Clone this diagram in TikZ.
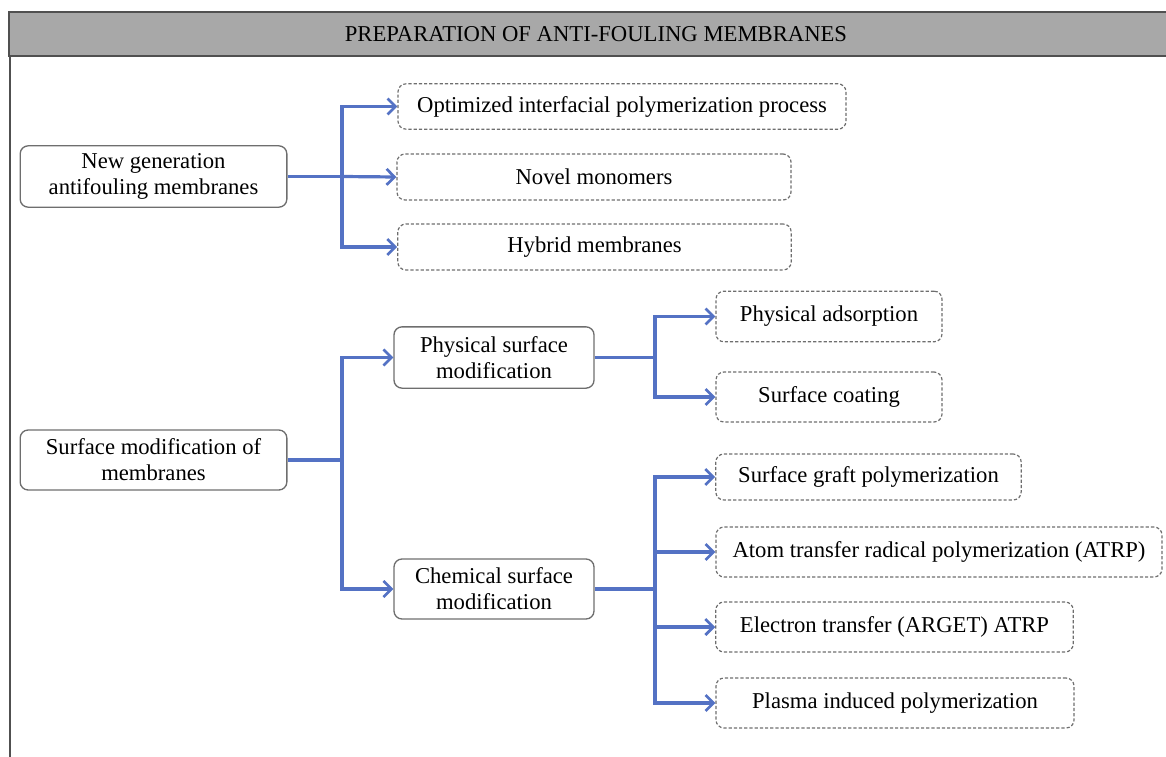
\documentclass[tikz,border=0pt]{standalone}
\usepackage{fontspec}
\setmainfont{Liberation Serif}
\usetikzlibrary{arrows.meta}

\definecolor{flowblue}{RGB}{84,114,196}
\definecolor{headgray}{RGB}{168,168,168}
\definecolor{framegray}{RGB}{80,80,80}
\definecolor{boxgray}{RGB}{110,110,110}

\tikzset{
  mainbox/.style={draw=boxgray,line width=1pt,rounded corners=6pt,align=center,
    inner sep=0pt,font=\fontsize{17}{19.5}\selectfont},
  subbox/.style={draw=boxgray,dashed,dash pattern=on 2.4pt off 1.5pt,line width=0.9pt,
    rounded corners=6pt,align=center,inner sep=0pt,font=\fontsize{17}{19.5}\selectfont},
  flow/.style={draw=flowblue,line width=2.4pt,-{Straight Barb[length=6pt,width=12pt,line width=2pt]}},
  trunk/.style={draw=flowblue,line width=2.4pt}
}

\begin{document}
\begin{tikzpicture}[x=0.75pt,y=0.75pt,yscale=-1,xscale=1]
\useasboundingbox (0,0) rectangle (1166,756);

%Header bar and frame
\draw [fill=headgray,draw=framegray,line width=2.2pt] (9,12) rectangle (1175,56);
\node (title) at (596,34) {\fontsize{17}{19.5}\selectfont PREPARATION OF ANTI-FOULING MEMBRANES};
\draw [draw=framegray,line width=2.2pt] (10,56) -- (10,765);

%Left column
\node [mainbox,minimum width=200pt,minimum height=46pt] (newgen) at (153.5,176.5) {New generation\\antifouling membranes};
\node [mainbox,minimum width=200pt,minimum height=45pt] (surfmod) at (153.5,460) {Surface modification of\\membranes};

%Middle column
\node [subbox,minimum width=336pt,minimum height=34pt] (optip) at (622,106.5) {Optimized interfacial polymerization process};
\node [subbox,minimum width=295.5pt,minimum height=34.5pt] (novel) at (594,177) {Novel monomers};
\node [subbox,minimum width=295pt,minimum height=34.5pt] (hybrid) at (594.5,247) {Hybrid membranes};
\node [mainbox,minimum width=150pt,minimum height=46pt] (phys) at (494,357.5) {Physical surface\\modification};
\node [mainbox,minimum width=150pt,minimum height=45pt] (chem) at (494,589) {Chemical surface\\modification};

%Right column
\node [subbox,minimum width=169.5pt,minimum height=38pt] (adsorp) at (829,316.5) {Physical adsorption};
\node [subbox,minimum width=169.5pt,minimum height=37.5pt] (coat) at (829,397) {Surface coating};
\node [subbox,minimum width=229pt,minimum height=34.5pt] (graft) at (868.5,477) {Surface graft polymerization};
\node [subbox,minimum width=334.5pt,minimum height=37.5pt] (atrp) at (939,552) {Atom transfer radical polymerization (ATRP)};
\node [subbox,minimum width=268pt,minimum height=37.5pt] (arget) at (894.5,627) {Electron transfer (ARGET) ATRP};
\node [subbox,minimum width=268.5pt,minimum height=37.5pt] (plasma) at (895,703) {Plasma induced polymerization};

%Branch points
\coordinate (jnew) at (342,176.5);
\coordinate (jsurf) at (342,460);
\coordinate (jphys) at (655,357.5);
\coordinate (jchem) at (655,589);

%Connectors
\draw [trunk] (newgen.east) -- (jnew);
\draw [flow] (jnew) |- (optip.west);
\draw [flow] (jnew) -- (novel.west);
\draw [flow] (jnew) |- (hybrid.west);

\draw [trunk] (surfmod.east) -- (jsurf);
\draw [flow] (jsurf) |- (phys.west);
\draw [flow] (jsurf) |- (chem.west);

\draw [trunk] (phys.east) -- (jphys);
\draw [flow] (jphys) |- (adsorp.west);
\draw [flow] (jphys) |- (coat.west);

\draw [trunk] (chem.east) -- (jchem);
\draw [flow] (jchem) |- (graft.west);
\draw [flow] (jchem) |- (atrp.west);
\draw [flow] (jchem) |- (arget.west);
\draw [flow] (jchem) |- (plasma.west);

\end{tikzpicture}
\end{document}
